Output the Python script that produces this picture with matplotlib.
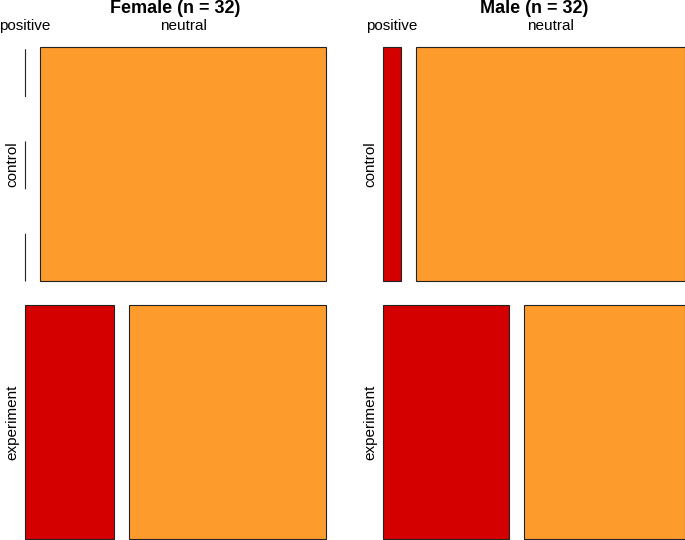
import matplotlib
matplotlib.use("Agg")
import matplotlib.pyplot as plt
from matplotlib.patches import Rectangle

plt.rcParams['font.family'] = ['Liberation Sans', 'DejaVu Sans']

groups = ["Female", "Male"]
conditions = ["control", "experiment"]
responses = ["positive", "neutral"]
female_counts = [[0, 16], [5, 11]]   # rows: control, experiment; cols: positive, neutral
male_counts = [[1, 15], [7, 9]]
colors = ["#D40000", "#FD9B2C"]

W, H = 685, 540
fig = plt.figure(figsize=(W / 100, H / 100), dpi=100)

panels = [(female_counts, 25, 326), (male_counts, 383, 685)]
top_px, bot_px = 47, 539
ph = bot_px - top_px

for gname, (counts, x0, x1) in zip(groups, panels):
    ax = fig.add_axes([x0 / W, (H - bot_px) / H, (x1 - x0) / W, ph / H])
    ax.set_xlim(0, 1)
    ax.set_ylim(0, 1)
    ax.axis("off")
    gap_x = 15 / (x1 - x0)
    gap_y = 24 / ph
    row_tot = [sum(r) for r in counts]
    n = sum(row_tot)
    avail_y = 1 - gap_y * (len(counts) - 1)
    ytop = 1.0
    for i, row in enumerate(counts):
        h = avail_y * row_tot[i] / n
        ybot = ytop - h
        avail_x = 1 - gap_x * (len(row) - 1)
        x = 0.0
        for j, c in enumerate(row):
            w = avail_x * c / row_tot[i]
            if c == 0:
                ax.plot([x, x], [ybot, ytop], color="#222222", lw=0.8,
                        linestyle=(0, (43, 40)), clip_on=False)
            else:
                ax.add_patch(Rectangle((x, ybot), w, h, facecolor=colors[j],
                                       edgecolor="#222222", lw=0.8, clip_on=False))
            if i == 0:
                ax.text(x + w / 2, 1 + 17 / ph, responses[j],
                        ha="center", va="baseline", fontsize=11, clip_on=False)
            x += w + gap_x
        ax.text(-13 / (x1 - x0), (ytop + ybot) / 2, conditions[i], rotation=90,
                ha="center", va="center", fontsize=11, clip_on=False)
        ytop = ybot - gap_y
    ax.text(0.5, 1 + 34 / ph, f"{gname} (n = {n})", ha="center",
            va="baseline", fontsize=13, fontweight="bold", clip_on=False)

fig.savefig("out.png", dpi=100)
